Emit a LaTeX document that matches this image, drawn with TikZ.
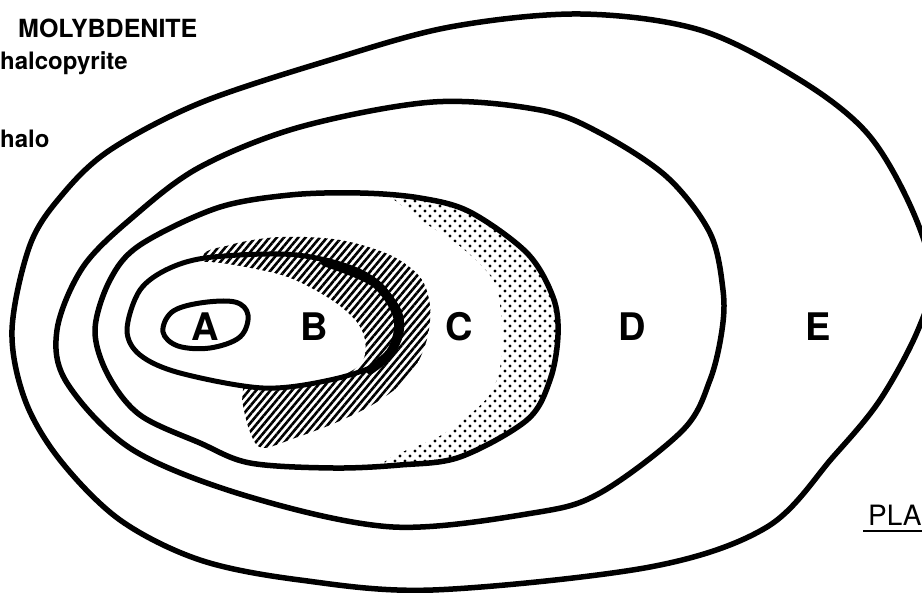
\documentclass[tikz,border=0pt]{standalone}
\usepackage{fontspec}
\setsansfont{TeX Gyre Heros}
\usetikzlibrary{patterns.meta}
\begin{document}
\begin{tikzpicture}[x=1pt,y=-1pt,
  zone/.style={line width=5.5pt,line join=round},
  zonelabel/.style={font=\sffamily\bfseries\fontsize{38}{40}\selectfont,inner sep=0pt},
  mineral/.style={font=\sffamily\bfseries\fontsize{24}{26}\selectfont,anchor=base west,inner sep=0pt}]
\useasboundingbox (0,0) rectangle (922,593);
\clip (0,0) rectangle (922,593);
% chalcopyrite stipple: dot C, then clear all but the outer band
\begin{scope}
  \clip plot[smooth cycle,tension=0.55] coordinates {(95,330) (110,280) (140,245) (217,208) (290,195) (360,193) (420,198) (470,212) (527,253) (553,297) (558,335) (550,380) (527,420) (460,457) (400,465) (333,468) (250,463) (200,443) (140,415) (108,375)};
  \foreach \gx in {350,360,...,570}
    \foreach \gy in {186,196,...,476}{
      \fill (\gx,\gy) circle (1.7);
      \fill (\gx+5,\gy+5) circle (1.7);
    }
\end{scope}
\fill[white] plot[smooth cycle,tension=0.5] coordinates {(70,330) (130,210) (250,180) (355,178) (420,220) (462,248) (493,280) (501,315) (501,362) (487,398) (443,434) (393,456) (350,482) (250,486) (120,450)};
% molybdenite hatching round B
\fill[pattern={Lines[angle=50,distance=5.5pt,line width=2.6pt]}] plot[smooth cycle,tension=0.55] coordinates {(203,261) (230,245) (280,237) (340,240) (390,255) (420,277) (430,305) (428,335) (418,362) (400,385) (372,405) (335,423) (295,438) (262,448) (250,432) (243,405) (243,390) (250,330)};
\fill[white] plot[smooth cycle,tension=0.55] coordinates {(128,330) (140,292) (168,270) (205,262) (250,268) (290,278) (330,299) (355,320) (365,340) (362,362) (340,376) (300,384) (263,388) (220,384) (180,373) (145,355)};
% zone boundaries
\draw[zone] plot[smooth cycle,tension=0.55] coordinates {(12,330) (30,245) (62,195) (110,150) (200,103) (330,60) (450,27) (580,14) (700,30) (800,80) (867,133) (910,205) (932,275) (918,330) (880,400) (833,457) (767,527) (650,567) (433,590) (300,580) (200,560) (120,520) (60,460) (25,400)};
\draw[zone] plot[smooth cycle,tension=0.55] coordinates {(57,330) (83,267) (133,217) (200,167) (300,127) (433,102) (540,110) (600,133) (667,177) (710,233) (723,290) (722,330) (710,380) (683,430) (600,493) (533,513) (393,527) (250,497) (133,450) (67,383)};
\draw[zone] plot[smooth cycle,tension=0.55] coordinates {(95,330) (110,280) (140,245) (217,208) (290,195) (360,193) (420,198) (470,212) (527,253) (553,297) (558,335) (550,380) (527,420) (460,457) (400,465) (333,468) (250,463) (200,443) (140,415) (108,375)};
\draw[zone,line width=5pt] plot[smooth cycle,tension=0.55] coordinates {(127,330) (140,290) (170,268) (213,257) (297,255) (363,273) (397,307) (400,337) (380,363) (330,380) (263,388) (180,373) (140,355)};
\draw[line width=9pt,line cap=round] plot[smooth,tension=0.55] coordinates {(325,262) (375,283) (398,318) (392,350) (370,370)};
\draw[zone,line width=5pt] plot[smooth cycle,tension=0.6] coordinates {(163,332) (172,312) (200,303) (235,302) (248,315) (240,337) (210,348) (178,346)};
% zone letters
\foreach \z/\x in {A/205,B/314,C/459,D/632,E/818}
  \node[zonelabel] (lab\z) at (\x,327) {\z};
% mineral key
\node[mineral,font=\sffamily\bfseries\fontsize{25}{27}\selectfont] (moly) at (18,38) {MOLYBDENITE};
\node[mineral] (chalco) at (0,70) {halcopyrite};
\node[mineral] (halo) at (0,148) {halo};
\node[font=\sffamily\fontsize{28}{30}\selectfont,anchor=base west,inner sep=0pt] (plan) at (868,526) {PLA};
\draw[line width=2.5pt] ([xshift=-5pt,yshift=-5pt]plan.base west) -- ++(60,0);
\end{tikzpicture}
\end{document}
